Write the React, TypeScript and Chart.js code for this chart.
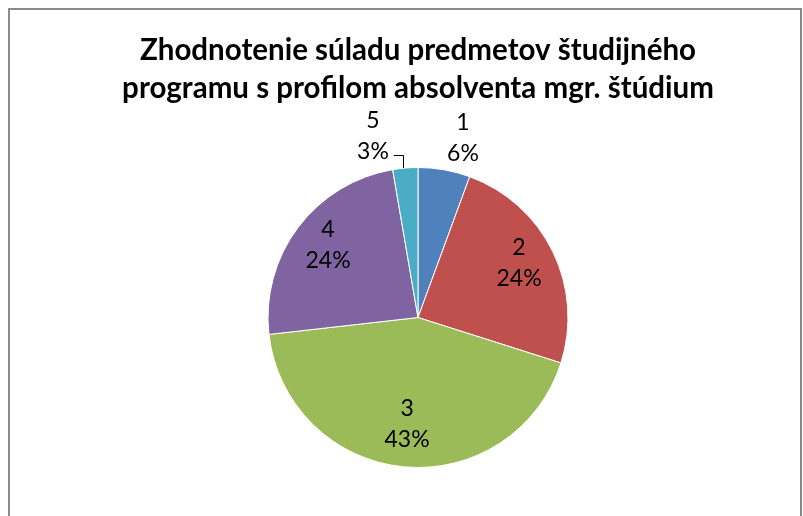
import React, { useEffect, useRef } from "react";
import { Chart, registerables } from "chart.js";

Chart.register(...registerables);

const titleLines = ["Zhodnotenie súladu predmetov študijného", "programu s profilom absolventa mgr. štúdium"];
const categories = ["1", "2", "3", "4", "5"];
const shares = [5.6, 24.3, 43.3, 24.1, 2.7];
const sliceColors = ["#4F81BD", "#C0504D", "#9BBB59", "#8064A2", "#4BACC6"];

const FONT = "Lato, 'Open Sans', sans-serif";

const labelPlugin = {
  id: "sliceLabels",
  afterDatasetsDraw(chart: any) {
    const ctx = chart.ctx as CanvasRenderingContext2D;
    const meta = chart.getDatasetMeta(0);
    const total = shares.reduce((a, b) => a + b, 0);
    const lineGap = 31;
    const lift = 5;
    ctx.save();
    ctx.font = `23px ${FONT}`;
    ctx.fillStyle = "#000";
    ctx.textAlign = "center";
    ctx.textBaseline = "middle";
    meta.data.forEach((arc: any, i: number) => {
      const { x, y, startAngle, endAngle, outerRadius } = arc.getProps(
        ["x", "y", "startAngle", "endAngle", "outerRadius"],
        true
      );
      const mid = (startAngle + endAngle) / 2;
      const span = endAngle - startAngle;
      const pct = Math.round((shares[i] / total) * 100) + "%";
      if (span > 0.6) {
        const r = outerRadius * 0.75;
        const lx = x + r * Math.cos(mid);
        const ly = y + r * Math.sin(mid) - lift;
        ctx.fillText(categories[i], lx, ly - lineGap / 2);
        ctx.fillText(pct, lx, ly + lineGap / 2);
      } else {
        const r = outerRadius * 1.215;
        const natural = r * Math.cos(mid);
        const minOff = 45;
        const dx = Math.sign(natural) * Math.max(Math.abs(natural), minOff);
        const lx = x + dx;
        const ly = y + r * Math.sin(mid);
        ctx.fillText(categories[i], lx, ly - lineGap / 2);
        ctx.fillText(pct, lx, ly + lineGap / 2);
        if (Math.abs(dx - natural) > 20) {
          const ex = x + outerRadius * Math.cos(mid);
          const ey = y + outerRadius * Math.sin(mid);
          const w = ctx.measureText(pct).width;
          const side = Math.sign(ex - lx);
          const tx = lx + side * (w / 2 + 5);
          const ty = ly + lineGap / 2 + 4;
          ctx.strokeStyle = "#000";
          ctx.lineWidth = 1;
          ctx.beginPath();
          ctx.moveTo(Math.round(ex) - 1.5, ey);
          ctx.lineTo(Math.round(ex) - 1.5, Math.round(ty) + 0.5);
          ctx.lineTo(tx, Math.round(ty) + 0.5);
          ctx.stroke();
        }
      }
    });
    ctx.restore();
  },
};

export default function App() {
  const ref = useRef<HTMLCanvasElement>(null);
  useEffect(() => {
    if (!ref.current) return;
    const chart = new Chart(ref.current, {
      type: "pie",
      data: {
        labels: categories,
        datasets: [
          {
            data: shares,
            backgroundColor: sliceColors,
            borderColor: "#ffffff",
            borderWidth: 1,
          },
        ],
      },
      options: {
        responsive: false,
        animation: false,
        radius: 150,
        layout: { padding: { left: 26, right: 0, top: 0, bottom: 12 } },
        plugins: {
          legend: { display: false },
          tooltip: { enabled: false },
          title: {
            display: true,
            text: titleLines,
            color: "#000",
            font: { family: FONT, size: 29.5, weight: "bold", lineHeight: 38 / 29.5 },
            padding: { top: 21, bottom: 0 },
          },
        },
      } as any,
      plugins: [labelPlugin],
    });
    return () => chart.destroy();
  }, []);
  return (
    <div
      style={{
        position: "fixed",
        left: 8,
        top: 8,
        width: 790,
        height: 530,
        border: "2px solid #8a8a8a",
        background: "#fff",
      }}
    >
      <canvas ref={ref} width={790} height={530} style={{ display: "block" }} />
    </div>
  );
}
